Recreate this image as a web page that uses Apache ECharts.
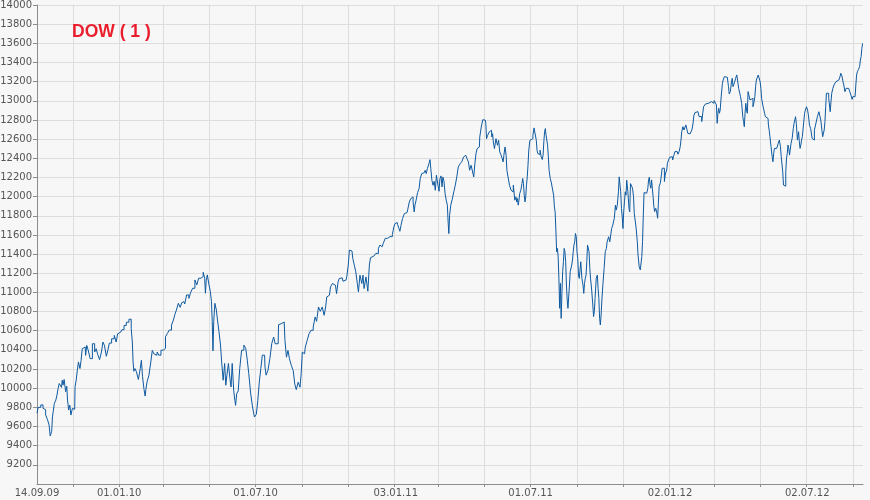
<!DOCTYPE html>
<html><head><meta charset="utf-8">
<script src="https://cdn.jsdelivr.net/npm/echarts@6/dist/echarts.min.js"></script>
<style>html,body{margin:0;padding:0;background:#f7f7f7}#c{width:870px;height:500px}</style>
</head><body><div id="c"></div>
<script>
// ---- data ----
const titleText = 'DOW ( 1 )';
const startDate = '14.09.09';
const endDate = '14.09.12';
const xLabelDates = ['14.09.09','01.01.10','01.07.10','03.01.11','01.07.11','02.01.12','02.07.12'];
const xGridDates = ['01.11.09','01.01.10','01.03.10','01.05.10','01.07.10','01.09.10','01.11.10','01.01.11','01.03.11','01.05.11','01.07.11','01.09.11','01.11.11','01.01.12','01.03.12','01.05.12','01.07.12','01.09.12'];
const yMin = 9000, yMax = 14000, yStep = 200;
// [days since start date, index value]
const dow2009 = [[0,9740],[3,9800],[7,9825],[9,9790],[10,9775],[13,9720],[15,9670],[17,9617],[18,9502],[19,9490],[20,9550],[21,9700],[22,9755],[24,9842],[26,9876],[27,9928],[29,9997],[30,10049],[32,10066],[33,10008],[34,10084],[35,10032],[37,10091],[39,9963],[40,10022],[41,9876],[43,9772],[44,9824],[46,9720],[48,9790],[50,9780],[51,10015],[53,10084],[54,10188],[56,10274],[58,10205],[59,10291],[61,10412],[64,10430],[65,10343],[67,10447],[69,10395],[72,10309],[75,10464],[78,10378],[79,10412],[82,10354],[84,10298],[87,10378],[88,10482],[91,10447],[93,10333],[95,10395],[97,10471],[101,10516],[104,10551],[106,10482],[108,10568]];
const dow2010 = [[111,10585],[114,10610],[117,10655],[120,10689],[124,10720],[126,10620],[127,10482],[128,10274],[129,10177],[131,10205],[133,10170],[136,10091],[138,10205],[139,10291],[141,10125],[143,9987],[144,9918],[145,9987],[147,10066],[150,10135],[152,10274],[154,10395],[156,10360],[159,10343],[160,10378],[163,10345],[166,10397],[169,10415],[172,10537],[174,10572],[177,10607],[180,10659],[182,10711],[184,10771],[186,10816],[189,10886],[191,10844],[193,10893],[195,10903],[197,10879],[200,10973],[203,10938],[205,11001],[208,11043],[211,11130],[213,11078],[216,11148],[219,11165],[222,11210],[223,11148],[224,10991],[225,11123],[227,11183],[229,11088],[231,11008],[232,10903],[233,10694],[234,10390],[235,10694],[237,10886],[239,10816],[240,10711],[243,10589],[244,10450],[246,10275],[248,10083],[250,10258],[251,10031],[253,10136],[255,10258],[257,10101],[258,10013],[260,10258],[262,9978],[263,9874],[264,9821],[266,9943],[268,9971],[270,10205],[273,10397],[276,10450],[278,10415],[280,10293],[282,10153],[285,9943],[287,9804],[290,9699],[292,9727],[294,9874],[296,10066],[298,10205],[300,10345],[302,10345],[303,10223],[305,10136],[308,10188],[310,10310],[313,10467],[315,10534],[317,10464],[320,10464],[321,10663],[323,10673],[325,10656],[328,10691],[330,10499],[332,10324],[334,10394],[336,10307],[339,10237],[341,10184],[343,10045],[345,9985],[348,10062],[350,10010],[351,10150],[353,10377],[355,10359],[357,10429],[360,10499],[362,10569],[365,10604],[368,10639],[370,10743],[372,10698],[375,10848],[377,10803],[380,10848],[382,10761],[384,10848],[385,10953],[388,10970],[391,11058],[393,11093],[396,11075],[399,10988],[400,11110],[402,11145],[405,11152],[407,11117],[410,11128],[412,11162],[414,11285],[415,11442],[418,11431],[420,11355],[422,11285],[424,11215],[426,11093],[427,11005],[430,11180],[432,11093],[433,11180],[435,11040],[438,11162],[440,11012],[442,11285],[443,11362],[447,11379],[452,11407],[454,11459],[456,11494],[458,11477],[461,11512],[463,11564],[467,11582],[470,11582],[473,11604]];
const dow2011 = [[474,11684],[476,11718],[478,11729],[479,11708],[481,11673],[482,11638],[484,11701],[486,11771],[489,11823],[491,11833],[493,11868],[495,11944],[497,11979],[498,11997],[500,11944],[501,11840],[502,11910],[504,11962],[506,12042],[508,12084],[509,12188],[512,12240],[514,12250],[516,12275],[517,12240],[519,12292],[521,12344],[522,12386],[523,12292],[525,12170],[526,12118],[528,12160],[529,12066],[531,12223],[533,12118],[534,12056],[535,12181],[537,12216],[538,12101],[539,12205],[541,12160],[542,12031],[544,11962],[545,11910],[546,11736],[547,11614],[548,11805],[550,11910],[552,11972],[554,12049],[556,12118],[558,12205],[560,12310],[563,12344],[565,12369],[567,12414],[569,12431],[572,12397],[573,12362],[575,12275],[577,12327],[579,12257],[580,12205],[582,12344],[583,12449],[585,12501],[587,12518],[588,12623],[591,12727],[592,12803],[595,12797],[596,12762],[597,12605],[599,12640],[601,12675],[603,12692],[604,12623],[605,12657],[606,12570],[608,12501],[610,12605],[612,12536],[613,12588],[615,12466],[616,12438],[618,12404],[619,12362],[620,12431],[622,12518],[623,12431],[624,12275],[626,12205],[628,12118],[630,12066],[631,12049],[633,12119],[635,11963],[636,11997],[637,11945],[638,11980],[639,11911],[640,11963],[641,12032],[643,12067],[644,12136],[645,12189],[646,12136],[647,12015],[648,11945],[649,11997],[650,12119],[651,12206],[652,12328],[653,12484],[655,12588],[656,12571],[657,12605],[659,12640],[660,12717],[661,12675],[662,12692],[663,12588],[664,12484],[665,12449],[666,12467],[667,12439],[668,12484],[670,12414],[671,12387],[672,12432],[673,12571],[674,12675],[675,12710],[676,12640],[677,12658],[678,12536],[679,12414],[680,12275],[682,12189],[683,12143],[685,12136],[686,12015],[687,11893],[688,11841],[689,11650],[690,11424],[691,11459],[692,11372],[693,11146],[694,10834],[695,11094],[696,10729],[697,10990],[698,11216],[699,11320],[700,11459],[701,11424],[702,11320],[703,11077],[704,10921],[705,10834],[706,10851],[707,11077],[708,11216],[709,11198],[710,11285],[711,11337],[712,11424],[713,11494],[714,11529],[715,11615],[716,11581],[717,11424],[718,11355],[719,11181],[720,11146],[721,11233],[722,11320],[724,11146],[725,11077],[726,10990],[727,11094],[728,11146],[729,11181],[730,11320],[731,11494],[732,11511],[733,11424],[734,11251],[735,11146],[737,11025],[738,10868],[739,10747],[740,10799],[741,10938],[743,11146],[744,11181],[745,11042],[746,10938],[747,10729],[748,10660],[749,10764],[750,10921],[752,11094],[753,11251],[755,11424],[756,11459],[757,11529],[758,11546],[759,11581],[761,11529],[762,11529],[763,11667],[765,11702],[767,11772],[768,11911],[769,11859],[771,11911],[772,12050],[773,12206],[774,12223],[775,12050],[776,11876],[777,11789],[778,11667],[779,11841],[780,11946],[781,12050],[782,12015],[783,12171],[785,12050],[786,11876],[787,11841],[788,12136],[789,12154],[790,12102],[791,12070],[792,12000],[793,11826],[794,11809],[796,11670],[797,11531],[798,11391],[800,11270],[801,11235],[802,11242],[803,11374],[804,11531],[805,11809],[806,12042],[808,12035],[809,12035],[810,12042],[811,12087],[812,12174],[813,12202],[814,12122],[815,12087],[816,12174],[817,12087],[818,12000],[819,11896],[820,11844],[822,11878],[823,11826],[824,11774],[825,11930],[826,12104],[828,12139],[829,12226],[830,12296],[831,12296],[832,12296],[833,12157],[834,12226],[835,12226],[836,12278],[837,12348]];
const dow2012 = [[839,12383],[840,12410],[841,12417],[843,12417],[844,12383],[845,12417],[846,12442],[847,12470],[849,12452],[850,12470],[851,12442],[853,12470],[854,12522],[855,12591],[856,12678],[858,12730],[859,12696],[860,12713],[862,12748],[863,12696],[864,12661],[866,12661],[867,12654],[868,12643],[870,12696],[871,12765],[872,12842],[874,12877],[875,12870],[876,12887],[878,12887],[879,12835],[880,12842],[881,12835],[883,12783],[884,12877],[885,12939],[886,12939],[888,12967],[889,12967],[890,12974],[892,12981],[893,12981],[894,12991],[896,13002],[897,12981],[898,12974],[899,13002],[901,12991],[902,12957],[903,12765],[904,12870],[905,12922],[906,12870],[907,12904],[909,13061],[910,13183],[911,13217],[913,13252],[914,13259],[915,13245],[917,13259],[918,13148],[919,13071],[921,13096],[922,13200],[923,13235],[924,13148],[925,13165],[926,13190],[928,13235],[929,13270],[930,13217],[932,13130],[933,13078],[934,13043],[936,12974],[937,12835],[938,12783],[939,12730],[940,12870],[941,12974],[942,12904],[943,12870],[944,13096],[945,13113],[947,13009],[948,12991],[949,13026],[951,12938],[952,12990],[953,13043],[954,13147],[955,13217],[956,13224],[958,13269],[959,13252],[960,13199],[961,13130],[962,13025],[964,12956],[965,12903],[966,12868],[967,12834],[968,12851],[970,12816],[971,12747],[972,12694],[973,12625],[975,12520],[976,12416],[977,12364],[978,12451],[979,12503],[980,12503],[981,12503],[982,12520],[983,12503],[984,12555],[986,12590],[987,12520],[988,12416],[989,12398],[990,12259],[991,12120],[992,12109],[993,12109],[994,12259],[995,12398],[996,12451],[997,12538],[998,12503],[999,12433],[1000,12416],[1001,12555],[1003,12607],[1004,12712],[1005,12764],[1006,12781],[1007,12834],[1008,12764],[1010,12590],[1011,12677],[1012,12573],[1013,12503],[1014,12538],[1015,12590],[1016,12625],[1018,12747],[1019,12869],[1020,12903],[1022,12938],[1023,12903],[1024,12851],[1026,12747],[1027,12712],[1028,12694],[1029,12607],[1030,12625],[1031,12590],[1032,12694],[1034,12747],[1035,12799],[1036,12834],[1037,12851],[1038,12886],[1039,12851],[1041,12799],[1042,12694],[1043,12625],[1044,12642],[1045,12694],[1046,12781],[1047,12938],[1048,13078],[1049,13078],[1050,13078],[1051,13025],[1052,12956],[1053,12886],[1054,12990],[1055,13078],[1057,13130],[1058,13165],[1059,13182],[1061,13199],[1062,13182],[1063,13217],[1065,13199],[1066,13252],[1067,13287],[1069,13259],[1070,13199],[1071,13165],[1073,13095],[1074,13130],[1075,13147],[1077,13130],[1078,13112],[1079,13095],[1081,13060],[1082,13015],[1083,13043],[1084,13025],[1085,13043],[1086,13060],[1087,13165],[1088,13269],[1089,13304],[1091,13328],[1092,13356],[1093,13426],[1094,13461],[1095,13548],[1096,13600]];

// ---- helpers ----
function parseD(s){const p=s.split('.').map(Number);return Date.UTC(2000+p[2],p[1]-1,p[0]);}
const t0 = parseD(startDate);
const toOff = s => Math.round((parseD(s)-t0)/86400000);
const labelOffs = xLabelDates.map(toOff);
const labelMap = {}; xLabelDates.forEach((s,i)=>{labelMap[labelOffs[i]]=s;});
const gridOffs = xGridDates.map(toOff);
const seriesData = [].concat(dow2009, dow2010, dow2011, dow2012);

const chart = echarts.init(document.getElementById('c'), null, {renderer:'canvas'});
chart.setOption({
  backgroundColor:'#f7f7f7',
  animation:false,
  title:{text:titleText,left:72,top:23,padding:0,
    textStyle:{color:'#ea1d2c',fontSize:17.5,fontWeight:'bold',fontFamily:'Liberation Sans'}},
  grid:{left:37,right:7,top:5,bottom:16,containLabel:false,outerBoundsMode:'none'},
  xAxis:{type:'value',min:0,max:toOff(endDate),
    axisLine:{show:true,lineStyle:{color:'#8c8c8c',width:1}},
    axisTick:{show:true,length:3,customValues:gridOffs,lineStyle:{color:'#8c8c8c'}},
    axisLabel:{customValues:labelOffs,formatter:v=>labelMap[Math.round(v)]||'',
      color:'#555',fontSize:10,fontFamily:'DejaVu Sans',margin:4},
    splitLine:{show:true,lineStyle:{color:'#dddddd',width:1}}},
  yAxis:{type:'value',min:yMin,max:yMax,interval:yStep,
    axisLine:{show:true,lineStyle:{color:'#8c8c8c',width:1}},
    axisTick:{show:true,length:4,lineStyle:{color:'#8c8c8c'}},
    axisLabel:{showMinLabel:false,formatter:v=>String(v),color:'#555',fontSize:10,fontFamily:'DejaVu Sans',margin:5},
    splitLine:{show:true,lineStyle:{color:'#dddddd',width:1}}},
  series:[{type:'line',data:seriesData,showSymbol:false,step:'middle',
    lineStyle:{width:1,color:'#0e5aa0'},emphasis:{disabled:true}}]
});
</script></body></html>
